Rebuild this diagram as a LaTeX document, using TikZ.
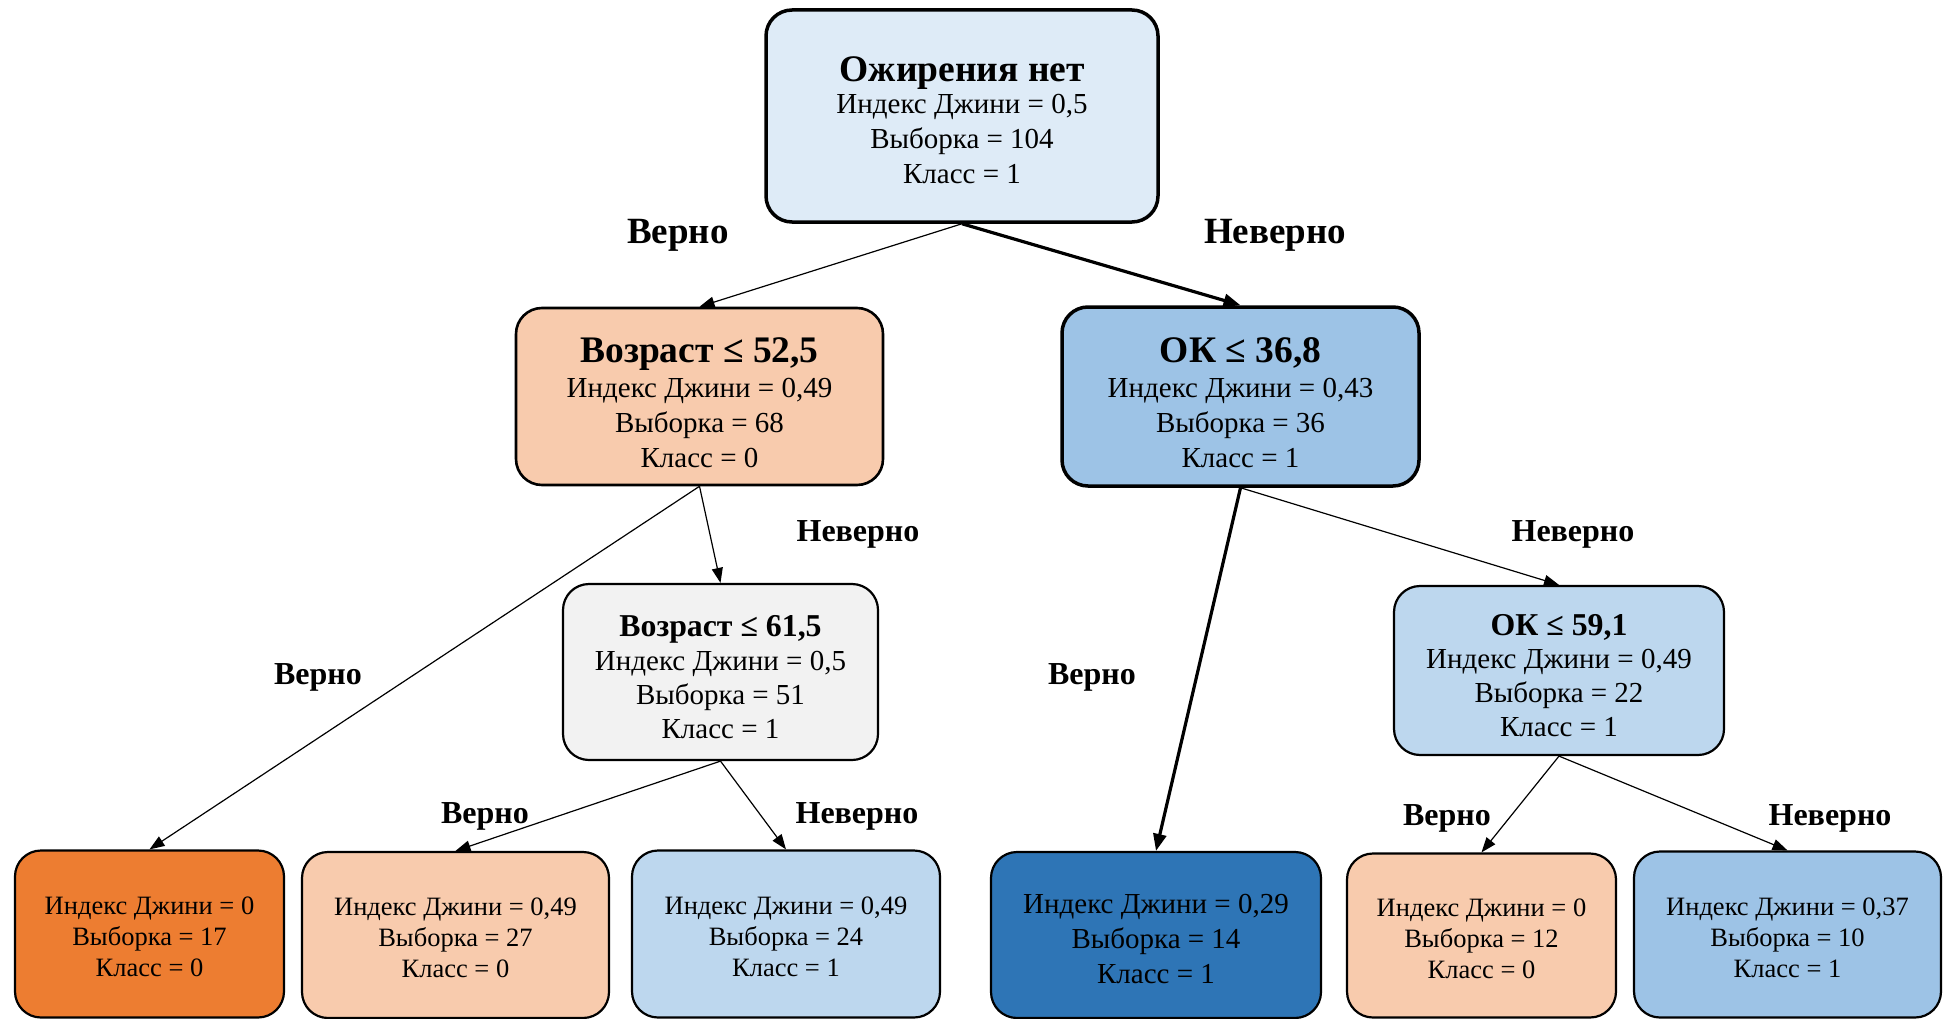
\documentclass[tikz,border=0pt]{standalone}
\usepackage{fontspec}
\setmainfont{Liberation Serif}
\usetikzlibrary{arrows.meta}
\definecolor{cRoot}{HTML}{DEEBF7}
\definecolor{cPeach}{HTML}{F8CBAD}
\definecolor{cBlueM}{HTML}{9DC3E6}
\definecolor{cGray}{HTML}{F2F2F2}
\definecolor{cBlueL}{HTML}{BDD7EE}
\definecolor{cOrange}{HTML}{ED7D31}
\definecolor{cBlueD}{HTML}{2E75B6}
\newcommand{\ttlA}[2][37pt]{{\fontsize{37.5}{35}\selectfont\bfseries\rule{0pt}{#1}#2}}
\newcommand{\ttlB}[1]{{\fontsize{31.8}{34}\selectfont\bfseries\rule{0pt}{31pt}#1}}
\newcommand{\lead}[1]{\rule{0pt}{#1}}
\begin{document}
\begin{tikzpicture}[x=1pt,y=-1pt,
  tbox/.style={draw=black, rounded corners=26pt, align=center, inner sep=0pt, line width=2.2pt,
    font=\fontsize{29}{35}\selectfont},
  midbox/.style={tbox, font=\fontsize{29}{33.8}\selectfont},
  leafbox/.style={tbox, font=\fontsize{26.5}{31}\selectfont},
  thickbox/.style={line width=3.5pt},
  thin/.style={line width=1.2pt, -{Triangle[length=15pt,width=11pt]}},
  thick/.style={line width=3.2pt, -{Triangle[length=17pt,width=13pt]}},
  lblA/.style={font=\fontsize{37}{40}\selectfont\bfseries},
  lblB/.style={font=\fontsize{32}{36}\selectfont\bfseries}]
\useasboundingbox (0,0) rectangle (1948,1019);
% root
\node[tbox, thickbox, fill=cRoot, minimum width=392pt, minimum height=212pt] (root) at (962,116)
  {\ttlA[34pt]{Ожирения нет}\\[-3pt] Индекс Джини = 0,5\\ Выборка = 104\\ Класс = 1};
% level 1
\node[tbox, line width=2.6pt, fill=cPeach, minimum width=367pt, minimum height=177pt] (a) at (699.5,396.5)
  {\ttlA{Возраст ≤ 52,5}\\ Индекс Джини = 0,49\\ Выборка = 68\\ Класс = 0};
\node[tbox, thickbox, fill=cBlueM, minimum width=357pt, minimum height=179pt] (b) at (1240.5,396.5)
  {\ttlA{ОК ≤ 36,8}\\ Индекс Джини = 0,43\\ Выборка = 36\\ Класс = 1};
% level 2
\node[midbox, fill=cGray, minimum width=315pt, minimum height=176pt] (c) at (720.5,672)
  {\ttlB{Возраст ≤ 61,5}\\ Индекс Джини = 0,5\\ Выборка = 51\\ Класс = 1};
\node[midbox, fill=cBlueL, minimum width=330pt, minimum height=169pt] (d) at (1559,670.5)
  {\ttlB{ОК ≤ 59,1}\\ Индекс Джини = 0,49\\ Выборка = 22\\ Класс = 1};
% leaves
\node[leafbox, fill=cOrange, minimum width=269pt, minimum height=167pt] (l1) at (149.5,934)
  {\lead{24pt}Индекс Джини = 0\\ Выборка = 17\\ Класс = 0};
\node[leafbox, fill=cPeach, minimum width=307pt, minimum height=166pt] (l2) at (455.5,935)
  {\lead{24pt}Индекс Джини = 0,49\\ Выборка = 27\\ Класс = 0};
\node[leafbox, fill=cBlueL, minimum width=308pt, minimum height=167pt] (l3) at (786,934)
  {\lead{24pt}Индекс Джини = 0,49\\ Выборка = 24\\ Класс = 1};
\node[tbox, fill=cBlueD, minimum width=330pt, minimum height=166pt] (l4) at (1156,935)
  {\lead{27pt}Индекс Джини = 0,29\\ Выборка = 14\\ Класс = 1};
\node[leafbox, fill=cPeach, minimum width=269pt, minimum height=164pt] (l5) at (1481.5,935.5)
  {\lead{25pt}Индекс Джини = 0\\ Выборка = 12\\ Класс = 0};
\node[leafbox, fill=cBlueM, minimum width=307pt, minimum height=166pt] (l6) at (1787.5,934.5)
  {\lead{25pt}Индекс Джини = 0,37\\ Выборка = 10\\ Класс = 1};
% edges
\draw[thin] (root.south) -- (a.north);
\draw[thick] (root.south) -- (b.north);
\draw[thin] (a.south) -- (l1.north);
\draw[thin] (a.south) -- (c.north);
\draw[thick] (b.south) -- (l4.north);
\draw[thin] (b.south) -- (d.north);
\draw[thin] (c.south) -- (l2.north);
\draw[thin] (c.south) -- (l3.north);
\draw[thin] (d.south) -- (l5.north);
\draw[thin] (d.south) -- (l6.north);
% edge labels
\node[lblA] (e1) at (678,235) {Верно};
\node[lblA] (e2) at (1275,235) {Неверно};
\node[lblB] (e3) at (858,534) {Неверно};
\node[lblB] (e4) at (318,677) {Верно};
\node[lblB] (e5) at (1092,677) {Верно};
\node[lblB] (e6) at (1573,534) {Неверно};
\node[lblB] (e7) at (485,816) {Верно};
\node[lblB] (e8) at (857,816) {Неверно};
\node[lblB] (e9) at (1447,818) {Верно};
\node[lblB] (e10) at (1830,818) {Неверно};
\end{tikzpicture}
\end{document}
